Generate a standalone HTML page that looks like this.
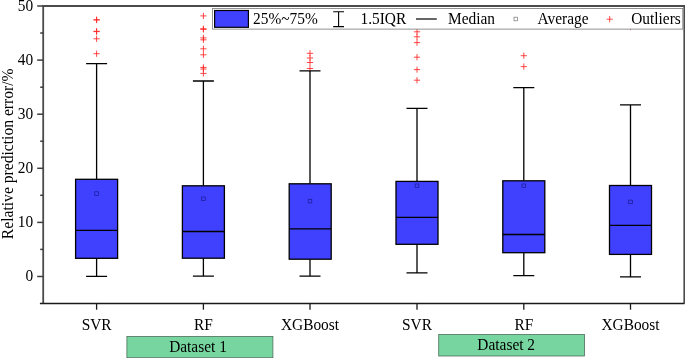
<!DOCTYPE html>
<html><head><meta charset="utf-8"><title>Box plot</title>
<style>
html,body{margin:0;padding:0;background:#fff;}
svg{display:block;will-change:transform;}
text{font-family:"Liberation Serif","Times New Roman",serif;font-size:15.4px;fill:#000;}
</style></head><body>
<svg width="685" height="358" viewBox="0 0 685 358">
<rect width="685" height="358" fill="#fff"/>

<g stroke="#ff2626" stroke-width="0.85" fill="none">
<path d="M93.5 19.7H99.7M96.6 16.6V22.8"/>
<path d="M93.5 20.0H99.7M96.6 16.9V23.1"/>
<path d="M93.5 31.3H99.7M96.6 28.2V34.4"/>
<path d="M93.5 31.6H99.7M96.6 28.5V34.7"/>
<path d="M93.5 38.8H99.7M96.6 35.7V41.9"/>
<path d="M93.5 53.7H99.7M96.6 50.6V56.8"/>
<path d="M200.3 15.9H206.5M203.4 12.8V19.0"/>
<path d="M200.3 28.7H206.5M203.4 25.6V31.8"/>
<path d="M200.3 29.4H206.5M203.4 26.3V32.5"/>
<path d="M200.3 37.9H206.5M203.4 34.8V41.0"/>
<path d="M200.3 39.8H206.5M203.4 36.7V42.9"/>
<path d="M200.3 48.8H206.5M203.4 45.7V51.9"/>
<path d="M200.3 54.8H206.5M203.4 51.7V57.9"/>
<path d="M200.3 67.4H206.5M203.4 64.3V70.5"/>
<path d="M200.3 69.0H206.5M203.4 65.9V72.1"/>
<path d="M200.3 73.4H206.5M203.4 70.3V76.5"/>
<path d="M306.9 53.3H313.1M310.0 50.2V56.4"/>
<path d="M306.9 58.0H313.1M310.0 54.9V61.1"/>
<path d="M306.9 62.5H313.1M310.0 59.4V65.6"/>
<path d="M306.9 68.5H313.1M310.0 65.4V71.6"/>
<path d="M413.9 31.8H420.1M417.0 28.7V34.9"/>
<path d="M413.9 36.8H420.1M417.0 33.7V39.9"/>
<path d="M413.9 42.6H420.1M417.0 39.5V45.7"/>
<path d="M413.9 57.2H420.1M417.0 54.1V60.3"/>
<path d="M413.9 69.6H420.1M417.0 66.5V72.7"/>
<path d="M413.9 80.2H420.1M417.0 77.1V83.3"/>
<path d="M520.7 55.7H526.9M523.8 52.6V58.8"/>
<path d="M520.7 66.6H526.9M523.8 63.5V69.7"/>
<path d="M627.4 27.0H633.6M630.5 23.9V30.1"/>
</g>
<g stroke="#000" stroke-width="1.3" fill="none">
<path d="M96.6 63.6V179.3M96.6 258.3V276.4M86.1 63.6H107.1M86.1 276.4H107.1"/>
<rect x="75.6" y="179.3" width="42.0" height="79.0" fill="#4040ff"/>
<path d="M75.6 230.3H117.6"/>
<path d="M203.4 81.0V185.8M203.4 258.2V276.2M192.9 81.0H213.9M192.9 276.2H213.9"/>
<rect x="182.4" y="185.8" width="42.0" height="72.4" fill="#4040ff"/>
<path d="M182.4 231.5H224.4"/>
<path d="M310.0 70.8V183.8M310.0 259.2V276.2M299.5 70.8H320.5M299.5 276.2H320.5"/>
<rect x="289.2" y="183.8" width="42.0" height="75.4" fill="#4040ff"/>
<path d="M289.0 228.8H331.0"/>
<path d="M417.0 108.3V181.4M417.0 244.3V272.8M406.5 108.3H427.5M406.5 272.8H427.5"/>
<rect x="396.0" y="181.4" width="42.0" height="62.9" fill="#4040ff"/>
<path d="M396.0 217.3H438.0"/>
<path d="M523.8 87.7V180.8M523.8 252.7V275.6M513.3 87.7H534.3M513.3 275.6H534.3"/>
<rect x="502.8" y="180.8" width="42.0" height="71.9" fill="#4040ff"/>
<path d="M502.8 234.5H544.8"/>
<path d="M630.5 104.9V185.5M630.5 254.4V276.8M620.0 104.9H641.0M620.0 276.8H641.0"/>
<rect x="609.5" y="185.5" width="42.0" height="68.9" fill="#4040ff"/>
<path d="M609.5 225.3H651.5"/>
</g>
<g stroke="#1a1a90" stroke-width="0.7" fill="none">
<rect x="94.8" y="191.8" width="3.6" height="3.6"/>
<rect x="201.6" y="197.0" width="3.6" height="3.6"/>
<rect x="308.2" y="199.3" width="3.6" height="3.6"/>
<rect x="415.2" y="184.0" width="3.6" height="3.6"/>
<rect x="522.0" y="184.0" width="3.6" height="3.6"/>
<rect x="628.7" y="200.1" width="3.6" height="3.6"/>
</g>
<path d="M43.2 303.5V6.0H684.3V303.5" fill="none" stroke="#4b4b4b" stroke-width="1.8" stroke-linejoin="miter"/>
<path d="M39.900000000000006 303.5H684.5" fill="none" stroke="#1a1a1a" stroke-width="1.4"/>
<g stroke="#3c3c3c" stroke-width="1.5">
<path d="M37.2 276.5H43.2"/>
<path d="M40.2 249.4H43.2"/>
<path d="M37.2 222.4H43.2"/>
<path d="M40.2 195.3H43.2"/>
<path d="M37.2 168.3H43.2"/>
<path d="M40.2 141.2H43.2"/>
<path d="M37.2 114.2H43.2"/>
<path d="M40.2 87.2H43.2"/>
<path d="M37.2 60.1H43.2"/>
<path d="M40.2 33.0H43.2"/>
<path d="M37.2 6.0H43.2"/>
</g>
<g stroke="#1a1a1a" stroke-width="1.3">
<path d="M96.6 303.5V309.7"/>
<path d="M203.4 303.5V309.7"/>
<path d="M310.0 303.5V309.7"/>
<path d="M417.0 303.5V309.7"/>
<path d="M523.8 303.5V309.7"/>
<path d="M630.5 303.5V309.7"/>
</g>
<text transform="translate(33.2 281.4) scale(1 1.15)" text-anchor="end">0</text>
<text transform="translate(33.2 227.3) scale(1 1.15)" text-anchor="end">10</text>
<text transform="translate(33.2 173.2) scale(1 1.15)" text-anchor="end">20</text>
<text transform="translate(33.2 119.1) scale(1 1.15)" text-anchor="end">30</text>
<text transform="translate(33.2 65.0) scale(1 1.15)" text-anchor="end">40</text>
<text transform="translate(33.2 10.9) scale(1 1.15)" text-anchor="end">50</text>
<text transform="translate(96.6 330.1) scale(1 1.15)" text-anchor="middle">SVR</text>
<text transform="translate(203.4 330.1) scale(1 1.15)" text-anchor="middle">RF</text>
<text transform="translate(310.0 330.1) scale(1 1.15)" text-anchor="middle">XGBoost</text>
<text transform="translate(417.0 330.1) scale(1 1.15)" text-anchor="middle">SVR</text>
<text transform="translate(523.8 330.1) scale(1 1.15)" text-anchor="middle">RF</text>
<text transform="translate(630.5 330.1) scale(1 1.15)" text-anchor="middle">XGBoost</text>
<text transform="translate(12.6 153.8) rotate(-90) scale(1.014 1.15)" text-anchor="middle">Relative prediction error/%</text>
<rect x="126.9" y="336.4" width="146.0" height="21.3" fill="#77d69f" stroke="#4f6e5d" stroke-width="0.8"/>
<text transform="translate(198 352.0) scale(1 1.15)" text-anchor="middle">Dataset 1</text>
<rect x="438.7" y="334.5" width="145.9" height="21.5" fill="#77d69f" stroke="#4f6e5d" stroke-width="0.8"/>
<text transform="translate(506.2 350.0) scale(1 1.15)" text-anchor="middle">Dataset 2</text>
<rect x="212.6" y="8.5" width="470.2" height="20.6" fill="#fff" stroke="#777" stroke-width="0.8"/>
<rect x="214.6" y="10.5" width="33.8" height="16.8" fill="#4040ff" stroke="#000" stroke-width="1.2"/>
<text transform="translate(253 24.2) scale(1 1.15)">25%~75%</text>
<path d="M333.2 11.7H344M333.2 26.6H344M338.6 11.7V26.6" stroke="#000" stroke-width="1.1" fill="none"/>
<text transform="translate(360.5 24.2) scale(1 1.15)">1.5IQR</text>
<path d="M416 19H436.8" stroke="#000" stroke-width="1.2"/>
<text transform="translate(448 24.2) scale(1 1.15)">Median</text>
<rect x="514.0" y="17.2" width="3.6" height="3.6" fill="none" stroke="#777" stroke-width="0.7"/>
<text transform="translate(537.6 24.2) scale(1 1.15)">Average</text>
<path d="M606.6 19.2H612.8M609.7 16.1V22.3" stroke="#ff2020" stroke-width="0.8" fill="none"/>
<text transform="translate(631.2 24.2) scale(1 1.15)">Outliers</text>
</svg></body></html>
